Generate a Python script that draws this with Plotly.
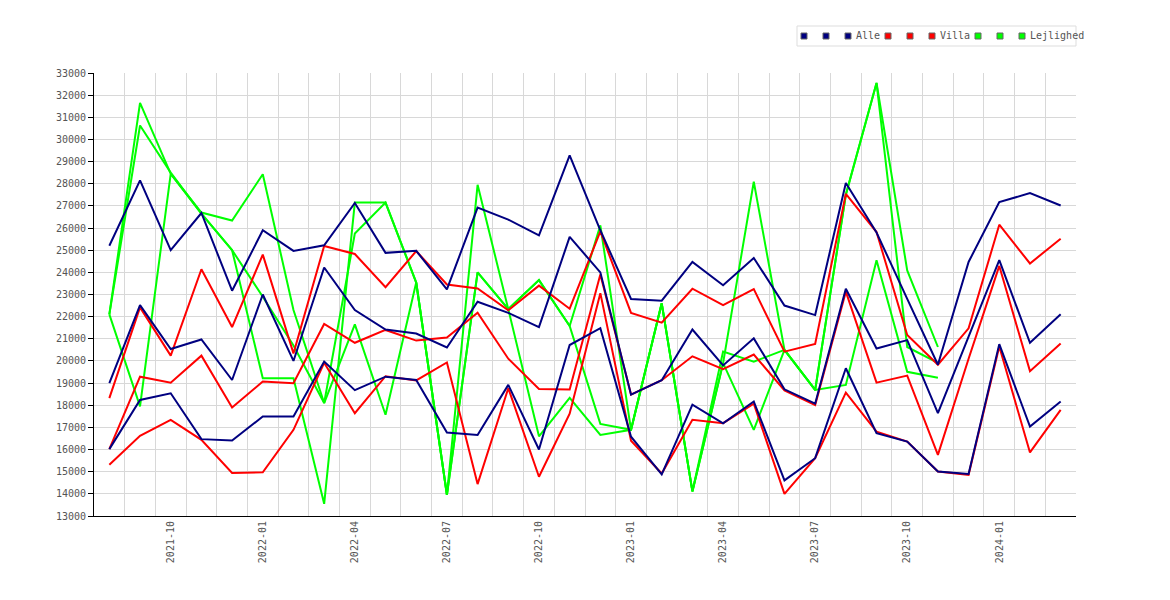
import plotly.graph_objects as go

# Months on the x axis (one point per month)
months = ["2021-08", "2021-09", "2021-10", "2021-11", "2021-12", "2022-01", "2022-02", "2022-03",
          "2022-04", "2022-05", "2022-06", "2022-07", "2022-08", "2022-09", "2022-10", "2022-11",
          "2022-12", "2023-01", "2023-02", "2023-03", "2023-04", "2023-05", "2023-06", "2023-07",
          "2023-08", "2023-09", "2023-10", "2023-11", "2023-12", "2024-01", "2024-02", "2024-03"]

# Alle
alle_top = [25200, 28150, 25000, 26680, 23170, 25900, 24970, 25220, 27130, 24880, 24970, 23230, 26920, 26380, 25670, 29280,
            25900, 22800, 22720, 24470, 23420, 24650, 22500, 22070, 28030, 25800, 22800, 19830, 24470, 27170, 27580, 27020]
alle_mid = [19000, 22520, 20540, 20970, 19140, 23000, 20000, 24220, 22300, 21420, 21240, 20610, 22670, 22170, 21530, 25600,
            24000, 18480, 19130, 21420, 19800, 21020, 18720, 18070, 23260, 20560, 20940, 17640, 21100, 24550, 20820, 22110]
alle_low = [16020, 18240, 18540, 16470, 16410, 17490, 17490, 19970, 18680, 19290, 19140, 16770, 16660, 18920, 16000, 20720,
            21480, 16580, 14880, 18030, 17180, 18170, 14610, 15610, 19670, 16740, 16360, 15010, 14900, 20760, 17040, 18170]

# Villa
villa_top = [18320, 22420, 20240, 24140, 21530, 24800, 20340, 25190, 24830, 23330, 24960, 23450, 23270, 22290, 23400, 22360,
             25850, 22170, 21730, 23260, 22520, 23240, 20420, 20770, 27540, 25820, 21170, 19830, 21470, 26150, 24400, 25520]
villa_mid = [16020, 19290, 19020, 20240, 17900, 19070, 18990, 21670, 20820, 21400, 20920, 21060, 22180, 20100, 18730, 18710,
             23900, 18480, 19130, 20210, 19630, 20290, 18670, 18010, 23130, 19020, 19340, 15760, 20100, 24290, 19540, 20790]
villa_low = [15310, 16620, 17340, 16440, 14940, 14970, 16890, 19920, 17640, 19310, 19120, 19930, 14440, 18770, 14770, 17620,
             23060, 16400, 14920, 17340, 17190, 18070, 14000, 15610, 18570, 16810, 16360, 15010, 14860, 20650, 15870, 17790]

# Lejlighed (no data after 2023-11)
lej_a = [22100, 31650, 28450, 26700, 26340, 28430, 22300, 18100, 25750, 27150, 23540, 13960, 27950, 22340, 23650, 21580,
         26120, 16890, 22600, 14110, 19900, 28090, 20500, 18690, 27500, 32550, 24090, 20630, None, None, None, None]
lej_b = [22100, 30630, 28500, 26650, 25000, 19220, 19220, 13550, 27150, 27150, 23540, 13960, 24000, 22340, 23650, 21580,
         17160, 16890, 22600, 14110, 19900, 16890, 20500, 18690, 27500, 32550, 20630, 19910, None, None, None, None]
lej_c = [22100, 17950, 28450, 26650, 25000, 22900, 20700, 18100, 21650, 17570, 23540, 13960, 24000, 22340, 16600, 18330,
         16660, 16890, 22600, 14110, 20420, 19970, 20500, 18690, 18920, 24550, 19510, 19240, None, None, None, None]

groups = [
    ("Alle", "#000080", [alle_top, alle_mid, alle_low]),
    ("Villa", "#ff0000", [villa_top, villa_mid, villa_low]),
    ("Lejlighed", "#00ff00", [lej_a, lej_b, lej_c]),
]

FONT = "DejaVu Sans Mono"
W, H = 1154, 584
ML, MR, MT, MB = 86, 86, 65, 76
PW, PH = W - ML - MR, H - MT - MB


def px2x(px):
    # screen pixel (page has 8px body margin) -> paper x
    return (px - 8 - ML) / PW


def px2y(py):
    return (H - MB + 8 - py) / PH


fig = go.Figure()

# draw Lejlighed first, Alle last (navy ends up on top)
for name, color, series in groups[::-1]:
    for s in series:
        fig.add_trace(go.Scatter(x=months, y=s, mode="lines", name=name,
                                 line=dict(color=color, width=2), showlegend=False))

# hand-made legend: three small squares per group, group name after the last one
shapes = [dict(type="rect", xref="paper", yref="paper", x0=px2x(797), x1=px2x(1076),
               y0=px2y(46), y1=px2y(26), line=dict(color="#dddddd", width=1), fillcolor="white", layer="above")]
annotations = []
x = 804
for name, color, _ in groups:
    for k in range(3):
        shapes.append(dict(type="rect", xref="paper", yref="paper",
                           x0=px2x(x - 3), x1=px2x(x + 3), y0=px2y(39), y1=px2y(33),
                           fillcolor=color, line=dict(color="#666666", width=1), layer="above"))
        if k < 2:
            x += 22
    annotations.append(dict(text=name, xref="paper", yref="paper", x=px2x(x + 6), y=px2y(36),
                            xanchor="left", yanchor="middle", showarrow=False,
                            font=dict(family=FONT, size=10, color="#555555")))
    x += 6 + len(name) * 6 + 10

ticktext = [m if m[-2:] in ("01", "04", "07", "10") else "" for m in months]

fig.update_layout(
    width=W, height=H,
    margin=dict(l=ML, r=MR, t=MT, b=MB),
    paper_bgcolor="white", plot_bgcolor="white",
    font=dict(family=FONT, size=10, color="#555555"),
    showlegend=False,
    shapes=shapes,
    annotations=annotations,
    xaxis=dict(type="category", categoryorder="array", categoryarray=months,
               range=[-0.5, len(months) - 0.5],
               tickmode="array", tickvals=months, ticktext=ticktext,
               tickson="boundaries", tickangle=-90, ticks="", showgrid=True,
               gridcolor="#d8d8d8", showline=True, linecolor="black", linewidth=1,
               zeroline=False, automargin=False),
    yaxis=dict(range=[13000, 33000], dtick=1000, tick0=13000, showgrid=True,
               gridcolor="#d8d8d8", showline=True, linecolor="black", linewidth=1,
               ticks="outside", ticklen=5, tickcolor="black", zeroline=False,
               tickformat="d", automargin=False),
)

fig.write_html("out.html")
